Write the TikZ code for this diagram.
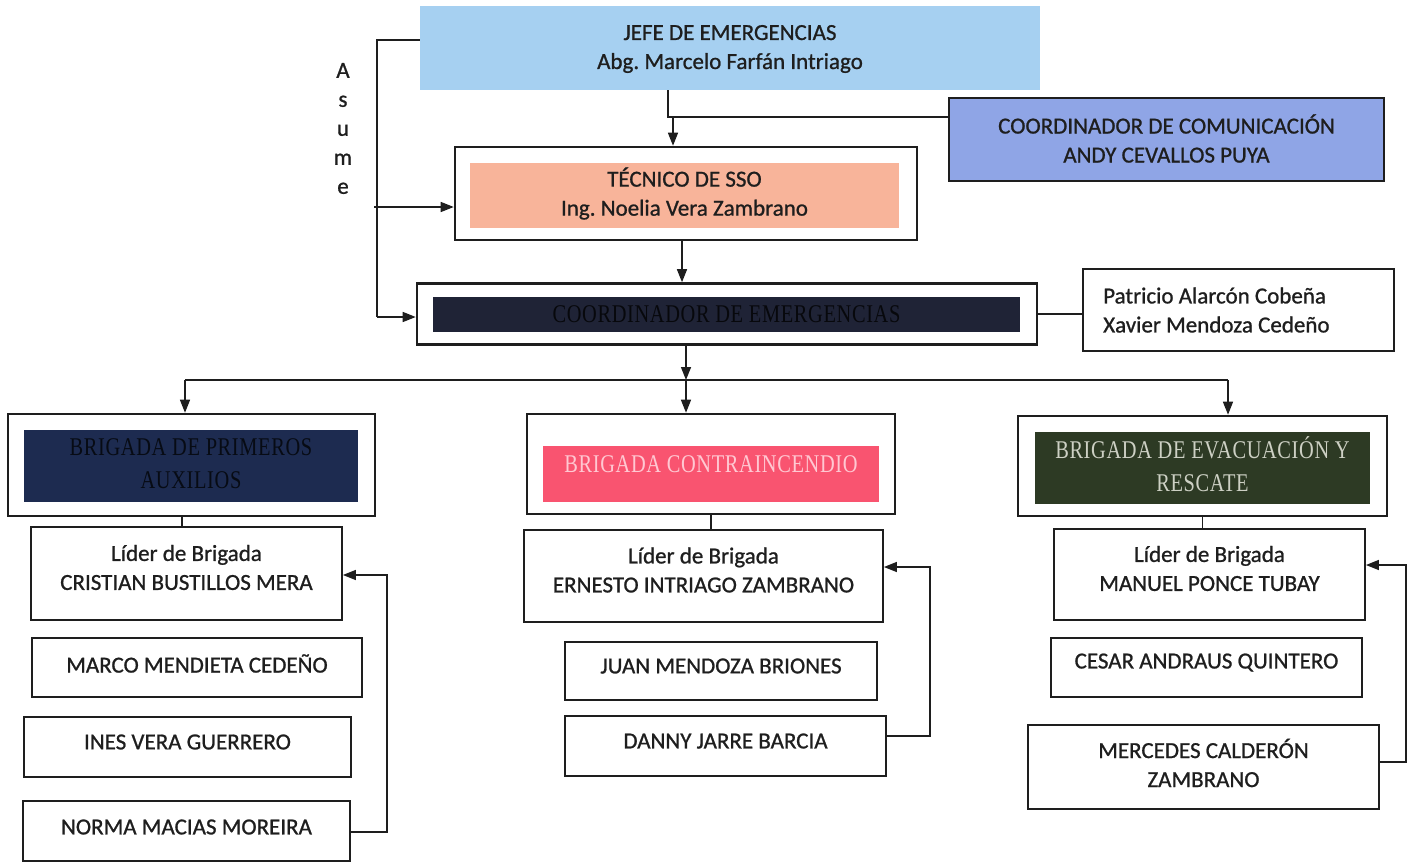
\documentclass[tikz,border=0pt]{standalone}
\usepackage{fontspec}
\setmainfont{Carlito}
\newfontfamily\calfam[FakeBold=0.9]{Carlito}
\newfontfamily\simfam[FakeStretch=0.8,LetterSpace=2.5]{Liberation Serif}
\usetikzlibrary{arrows.meta}
\frenchspacing
\newcommand\calf{\calfam\fontsize{23}{29}\selectfont\frenchspacing}
\newcommand\simf{\simfam\fontsize{25.5}{33}\selectfont}
\definecolor{jefeblue}{RGB}{166,208,241}
\definecolor{comblue}{RGB}{143,165,230}
\definecolor{salmon}{RGB}{248,180,154}
\definecolor{navyA}{RGB}{31,35,54}
\definecolor{navyB}{RGB}{29,43,80}
\definecolor{pinkred}{RGB}{249,84,112}
\definecolor{dkgreen}{RGB}{45,58,36}
\definecolor{ink}{RGB}{30,30,30}
\tikzset{
  lbl/.style={font=\calf, align=center, text=ink, inner sep=0pt},
  pbox/.style={draw=ink, line width=1.8pt, fill=white, inner sep=0pt},
  obox/.style={draw=ink, line width=2.6pt, fill=white, inner sep=0pt},
  ibox/.style={inner sep=0pt},
  htxt/.style={inner sep=0pt, align=center, font=\simf},
  conn/.style={draw=ink, line width=1.4pt},
  arr/.style={conn, -{Triangle[length=13pt,width=10pt]}},
}
\begin{document}
\begin{tikzpicture}[x=1pt,y=-1pt]
\useasboundingbox[fill=white] (0,0) rectangle (1408,863);

% top
\node[ibox, fill=jefeblue, minimum width=620pt, minimum height=84pt] (jefe) at (730,48) {};
\node[lbl] (jefeT) at ([yshift=-1pt]jefe.center) {JEFE DE EMERGENCIAS\\Abg. Marcelo Farfán Intriago};

\node[ibox, fill=comblue, draw=ink, line width=2.6pt, minimum width=435pt, minimum height=83pt] (com) at (1166.5,139.5) {};
\node[lbl] (comT) at ([yshift=1pt]com.center) {COORDINADOR DE COMUNICACIÓN\\ANDY CEVALLOS PUYA};

\node[obox, minimum width=462pt, minimum height=93pt] (tecO) at (686,193.5) {};
\node[ibox, fill=salmon, minimum width=429pt, minimum height=65pt] (tecI) at (684.5,195.5) {};
\node[lbl] (tecT) at ([yshift=2pt]tecI.center) {TÉCNICO DE SSO\\Ing. Noelia Vera Zambrano};

\node[obox, minimum width=620pt, minimum height=61pt] (coordO) at (727,314) {};
\node[ibox, fill=navyA, minimum width=587pt, minimum height=35pt] (coordI) at (726.5,314) {};
\node[htxt, text=black!78!navyA] (coordT) at (coordI.center) {COORDINADOR DE EMERGENCIAS};

\node[pbox, minimum width=311pt, minimum height=82pt] (pat) at (1238.5,310) {};
\node[lbl, align=left, anchor=west] (patT) at (1103,310) {Patricio Alarcón Cobeña\\Xavier Mendoza Cedeño};

\node[lbl] (asume) at (343,128.5) {\fontsize{23}{28.5}\selectfont A\\s\\u\\m\\e};

% brigades
\node[obox, minimum width=367pt, minimum height=102pt] (paO) at (191.5,465) {};
\node[ibox, fill=navyB, minimum width=334pt, minimum height=72pt] (paI) at (191,466) {};
\node[htxt, text=black!75!navyB] (paT) at ([yshift=2pt]paI.center) {BRIGADA DE PRIMEROS\\AUXILIOS};

\node[obox, minimum width=368pt, minimum height=100pt] (ciO) at (711,464) {};
\node[ibox, fill=pinkred, minimum width=336pt, minimum height=56pt] (ciI) at (711,474) {};
\node[htxt, text={rgb,255:red,255;green,200;blue,210}] (ciT) at ([yshift=10pt]ciI.center) {BRIGADA CONTRAINCENDIO};

\node[obox, minimum width=369pt, minimum height=100pt] (evO) at (1202.5,466) {};
\node[ibox, fill=dkgreen, minimum width=335pt, minimum height=72pt] (evI) at (1202.5,468) {};
\node[htxt, text={rgb,255:red,205;green,208;blue,196}] (evT) at ([yshift=4pt]evI.center) {BRIGADA DE EVACUACIÓN Y\\RESCATE};

% left column
\node[pbox, minimum width=311pt, minimum height=93pt] (l1) at (186.5,573.5) {};
\node[lbl] (l1T) at ([yshift=6pt]l1.center) {Líder de Brigada\\CRISTIAN BUSTILLOS MERA};
\node[pbox, minimum width=330pt, minimum height=59pt] (l2) at (197,667.5) {};
\node[lbl] (l2T) at ([yshift=4pt]l2.center) {MARCO MENDIETA CEDEÑO};
\node[pbox, minimum width=327pt, minimum height=60pt] (l3) at (187.5,747) {};
\node[lbl] (l3T) at ([yshift=5pt]l3.center) {INES VERA GUERRERO};
\node[pbox, minimum width=327pt, minimum height=60pt] (l4) at (186.5,831) {};
\node[lbl] (l4T) at ([yshift=4pt]l4.center) {NORMA MACIAS MOREIRA};

% middle column
\node[pbox, minimum width=359pt, minimum height=92pt] (m1) at (703.5,576) {};
\node[lbl] (m1T) at ([yshift=6pt]m1.center) {Líder de Brigada\\ERNESTO INTRIAGO ZAMBRANO};
\node[pbox, minimum width=312pt, minimum height=58pt] (m2) at (721,671) {};
\node[lbl] (m2T) at ([yshift=5pt]m2.center) {JUAN MENDOZA BRIONES};
\node[pbox, minimum width=321pt, minimum height=60pt] (m3) at (725.5,746) {};
\node[lbl] (m3T) at ([yshift=5pt]m3.center) {DANNY JARRE BARCIA};

% right column
\node[pbox, minimum width=311pt, minimum height=91pt] (r1) at (1209.5,574.5) {};
\node[lbl] (r1T) at ([yshift=6pt]r1.center) {Líder de Brigada\\MANUEL PONCE TUBAY};
\node[pbox, minimum width=311pt, minimum height=59pt] (r2) at (1206.5,667.5) {};
\node[lbl] (r2T) at ([yshift=5pt]r2.center) {CESAR ANDRAUS QUINTERO};
\node[pbox, minimum width=351pt, minimum height=84pt] (r3) at (1203.5,767) {};
\node[lbl] (r3T) at ([yshift=4pt]r3.center) {MERCEDES CALDERÓN\\ZAMBRANO};

% connectors top
\coordinate (j1) at (668,117);
\coordinate (j2) at (673,117);
\draw[conn] (j1 |- jefe.south) -- (j1) -- (j1 -| com.west);
\draw[arr] (j2) -- (j2 |- tecO.north);

\coordinate (a0) at (377,40);
\coordinate (a1) at (374,207);
\coordinate (a2) at (377,317);
\draw[conn] (a0 -| jefe.west) -- (a0) -- (a2);
\draw[arr] (a1) -- (a1 -| tecO.west);
\draw[arr] (a2) -- (a2 -| coordO.west);

\coordinate (t1) at (682,0);
\draw[arr] (t1 |- tecO.south) -- (t1 |- coordO.north);
\draw[conn] (coordO.east) -- (coordO.east -| pat.west);

\coordinate (h) at (686,380);
\coordinate (hL) at (185,380);
\coordinate (hR) at (1228,380);
\draw[arr] (h |- coordO.south) -- (h);
\draw[conn] (hL) -- (hR);
\draw[arr] (hL) -- (hL |- paO.north);
\draw[arr] (h) -- (h |- ciO.north);
\draw[arr] (hR) -- (hR |- evO.north);

% brigade to leader
\coordinate (b1) at (182,0);
\draw[conn] (b1 |- paO.south) -- (b1 |- l1.north);
\draw[conn] (ciO.south) -- (ciO.south |- m1.north);
\draw[conn] (evO.south) -- (evO.south |- r1.north);

% feedback loops
\coordinate (fL1) at (387,832);
\coordinate (fL2) at (387,575);
\draw[arr] (fL1 -| l4.east) -- (fL1) -- (fL2) -- (fL2 -| l1.east);
\coordinate (fM1) at (930,736);
\coordinate (fM2) at (930,567);
\draw[arr] (fM1 -| m3.east) -- (fM1) -- (fM2) -- (fM2 -| m1.east);
\coordinate (fR1) at (1406,762);
\coordinate (fR2) at (1406,565);
\draw[arr] (fR1 -| r3.east) -- (fR1) -- (fR2) -- (fR2 -| r1.east);
\end{tikzpicture}
\end{document}
